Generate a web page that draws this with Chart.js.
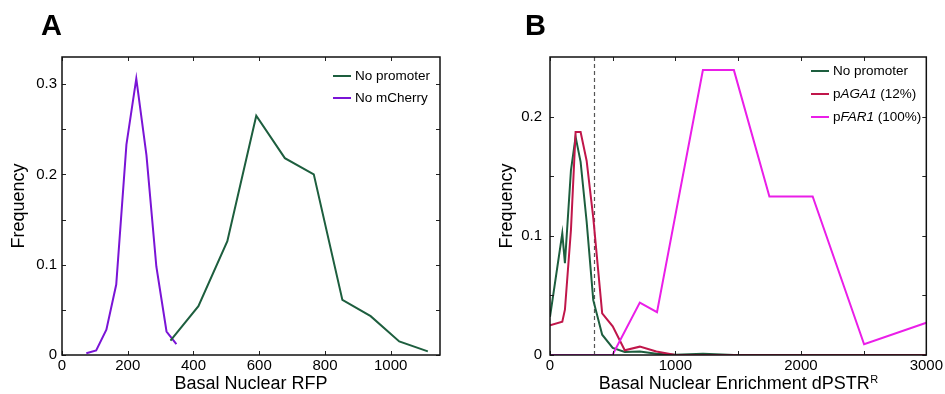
<!DOCTYPE html>
<html>
<head>
<meta charset="utf-8">
<script src="https://cdn.jsdelivr.net/npm/chart.js@4.4.1/dist/chart.umd.min.js"></script>
<style>
  html, body { margin: 0; padding: 0; background: #fff; }
  #wrap { position: relative; width: 945px; height: 394px; overflow: hidden; }
  canvas { position: absolute; top: 0; }
  #chartA { left: 0; }
  #chartB { left: 470px; }
  .panel { position: absolute; top: 9px; line-height: 1; font: bold 29px "Liberation Sans", Arial, sans-serif; }
</style>
</head>
<body>
<div id="wrap">
  <canvas id="chartA" width="470" height="394"></canvas>
  <canvas id="chartB" width="475" height="394"></canvas>
  <div class="panel" style="left:41px">A</div>
  <div class="panel" style="left:525px">B</div>
</div>
<script>
const FONT = '"Liberation Sans", Arial, Helvetica, sans-serif';

// Panel A - basal nuclear RFP
const rfpNoPromoter = [330, 415, 503, 591, 678, 766, 853, 939, 1026, 1113];
const freqNoPromoterA = [0.016, 0.054, 0.126, 0.265, 0.218, 0.2, 0.061, 0.043, 0.015, 0.004];
const rfpNoMcherry = [74, 104, 135, 165, 196, 226, 257, 287, 318, 348];
const freqNoMcherry = [0.002, 0.005, 0.028, 0.078, 0.233, 0.306, 0.221, 0.098, 0.026, 0.012];
const xTicksA = [0, 200, 400, 600, 800, 1000];
const xTickLabelsA = ['0', '200', '400', '600', '800', '1000'];
const yTicksA = [0, 0.05, 0.1, 0.15, 0.2, 0.25, 0.3];
const yTickLabelsA = ['0', '', '0.1', '', '0.2', '', '0.3'];

// Panel B - basal nuclear enrichment dPSTR
const enrNoPromoter = [0, 98, 119, 167, 204, 244, 292, 345, 416, 500, 596, 716, 848, 1000, 1220, 1466, 3000];
const freqNoPromoterB = [0.032, 0.102, 0.077, 0.155, 0.183, 0.162, 0.112, 0.046, 0.017, 0.006, 0.0025, 0.003, 0.001, 0.0003, 0.001, 0, 0];
const enrAga1 = [0, 98, 119, 167, 204, 244, 292, 345, 416, 500, 596, 716, 848, 1000, 3000];
const freqAga1 = [0.025, 0.028, 0.038, 0.105, 0.187, 0.187, 0.163, 0.115, 0.035, 0.024, 0.004, 0.007, 0.003, 0, 0];
const enrFar1 = [0, 498, 716, 853, 1219, 1466, 1749, 2094, 2504, 3000];
const freqFar1 = [0, 0, 0.044, 0.036, 0.239, 0.239, 0.133, 0.133, 0.009, 0.027];
const thresholdB = 347;
const xTicksB = [0, 500, 1000, 1500, 2000, 2500, 3000];
const xTickLabelsB = ['0', '', '1000', '', '2000', '', '3000'];
const yTicksB = [0, 0.05, 0.1, 0.15, 0.2];
const yTickLabelsB = ['0', '', '0.1', '', '0.2'];

const GREEN = '#1d5e3e';
const PURPLE = '#7a14d6';
const RED = '#c0164a';
const MAGENTA = '#ea1ee8';

function points(xs, ys) {
    return xs.map((x, i) => ({ x: x, y: ys[i] }));
}

function series(label, xs, ys, color, extra) {
    return Object.assign({
        label: label,
        data: points(xs, ys),
        borderColor: color,
        backgroundColor: color,
        borderWidth: 2,
        pointRadius: 0,
        tension: 0,
        fill: false
    }, extra || {});
}

function xAxis(max, ticks, labels) {
    return {
        type: 'linear', min: 0, max: max,
        afterBuildTicks: s => { s.ticks = ticks.map(v => ({ value: v })); },
        afterFit: s => { s.height = 39; },
        grid: { display: false, drawTicks: false },
        border: { display: false },
        ticks: {
            autoSkip: false, maxRotation: 0, padding: 2, color: '#000',
            font: { family: FONT, size: 15 },
            callback: (v, i) => labels[i]
        }
    };
}

function yAxis(max, ticks, labels, width, pad) {
    return {
        type: 'linear', min: 0, max: max,
        afterBuildTicks: s => { s.ticks = ticks.map(v => ({ value: v })); },
        afterFit: s => { s.width = width; },
        grid: { display: false, drawTicks: false },
        border: { display: false },
        ticks: {
            autoSkip: false, padding: pad, color: '#000',
            font: { family: FONT, size: 15 },
            callback: (v, i) => labels[i]
        }
    };
}

// box, inward ticks, titles, threshold and legend (matlab look)
const framePlugin = {
    id: 'frame',
    beforeDatasetsDraw(chart, args, opts) {
        if (opts.threshold == null) return;
        const { ctx, chartArea: a, scales } = chart;
        const x = Math.round(scales.x.getPixelForValue(opts.threshold)) + 0.5;
        ctx.save();
        ctx.strokeStyle = '#555';
        ctx.lineWidth = 1.2;
        ctx.setLineDash([4, 3]);
        ctx.beginPath();
        ctx.moveTo(x, a.top);
        ctx.lineTo(x, a.bottom);
        ctx.stroke();
        ctx.restore();
    },
    afterDraw(chart, args, opts) {
        const { ctx, chartArea: a, scales } = chart;
        ctx.save();

        ctx.strokeStyle = '#222';
        ctx.lineWidth = 1;
        ctx.beginPath();
        scales.x.ticks.forEach(t => {
            const px = Math.round(scales.x.getPixelForValue(t.value)) + 0.5;
            ctx.moveTo(px, a.bottom); ctx.lineTo(px, a.bottom - 4);
            ctx.moveTo(px, a.top); ctx.lineTo(px, a.top + 4);
        });
        scales.y.ticks.forEach(t => {
            const py = Math.round(scales.y.getPixelForValue(t.value)) + 0.5;
            ctx.moveTo(a.left, py); ctx.lineTo(a.left + 4, py);
            ctx.moveTo(a.right, py); ctx.lineTo(a.right - 4, py);
        });
        ctx.stroke();

        ctx.lineWidth = 1.5;
        ctx.strokeStyle = '#111';
        ctx.strokeRect(a.left, a.top, a.right - a.left, a.bottom - a.top);

        // x title, pieces may be superscript
        const big = '18px ' + FONT;
        const small = '11px ' + FONT;
        ctx.fillStyle = '#000';
        ctx.textBaseline = 'alphabetic';
        ctx.textAlign = 'left';
        let w = 0;
        opts.xTitle.forEach(p => {
            ctx.font = p.sup ? small : big;
            w += ctx.measureText(p.text).width;
        });
        let tx = (a.left + a.right) / 2 - w / 2;
        opts.xTitle.forEach(p => {
            ctx.font = p.sup ? small : big;
            ctx.fillText(p.text, tx, p.sup ? 383 : 389);
            tx += ctx.measureText(p.text).width + (p.sup ? 0 : 0.5);
        });

        // legend inside the axes
        const lg = opts.legend;
        chart.data.datasets.forEach((ds, i) => {
            const y = lg.y + i * lg.gap;
            ctx.strokeStyle = ds.borderColor;
            ctx.lineWidth = 2;
            ctx.beginPath();
            ctx.moveTo(lg.x, y);
            ctx.lineTo(lg.x + 18, y);
            ctx.stroke();
            let lx = lg.x + 22;
            let parts = [[ds.label, false]];
            if (ds.italic) {
                const k = ds.label.indexOf(ds.italic);
                parts = [[ds.label.slice(0, k), false], [ds.italic, true], [ds.label.slice(k + ds.italic.length), false]];
            }
            parts.forEach(([text, it]) => {
                ctx.font = (it ? 'italic ' : '') + '13.5px ' + FONT;
                ctx.fillText(text, lx, y + 4);
                lx += ctx.measureText(text).width;
            });
        });

        // y title
        ctx.font = big;
        ctx.translate(a.left - 38, (a.top + a.bottom) / 2);
        ctx.rotate(-Math.PI / 2);
        ctx.textAlign = 'center';
        ctx.fillText(opts.yTitle, 0, 0);

        ctx.restore();
    }
};

function buildChart(id, datasets, scales, frame, pad) {
    return new Chart(document.getElementById(id), {
        type: 'line',
        data: { datasets: datasets },
        options: {
            responsive: false,
            animation: false,
            events: [],
            layout: { padding: pad },
            plugins: {
                legend: { display: false },
                tooltip: { enabled: false },
                frame: frame
            },
            scales: scales
        },
        plugins: [framePlugin]
    });
}

buildChart('chartA', [
    series('No promoter', rfpNoPromoter, freqNoPromoterA, GREEN),
    series('No mCherry', rfpNoMcherry, freqNoMcherry, PURPLE)
], {
    x: xAxis(1150, xTicksA, xTickLabelsA),
    y: yAxis(0.33, yTicksA, yTickLabelsA, 62, 5)
}, {
    xTitle: [{ text: 'Basal Nuclear RFP' }],
    yTitle: 'Frequency',
    legend: { x: 333, y: 76, gap: 22 }
}, { left: 0, top: 57, right: 30, bottom: 0 });

buildChart('chartB', [
    series('No promoter', enrNoPromoter, freqNoPromoterB, GREEN, { order: 2 }),
    series('pAGA1 (12%)', enrAga1, freqAga1, RED, { order: 1, italic: 'AGA1' }),
    series('pFAR1 (100%)', enrFar1, freqFar1, MAGENTA, { order: 0, italic: 'FAR1' })
], {
    x: xAxis(3000, xTicksB, xTickLabelsB),
    y: yAxis(0.25, yTicksB, yTickLabelsB, 80, 8)
}, {
    threshold: thresholdB,
    xTitle: [{ text: 'Basal Nuclear Enrichment dPSTR' }, { text: 'R', sup: true }],
    yTitle: 'Frequency',
    legend: { x: 341, y: 71, gap: 23 }
}, { left: 0, top: 57, right: 18, bottom: 0 });
</script>
</body>
</html>
